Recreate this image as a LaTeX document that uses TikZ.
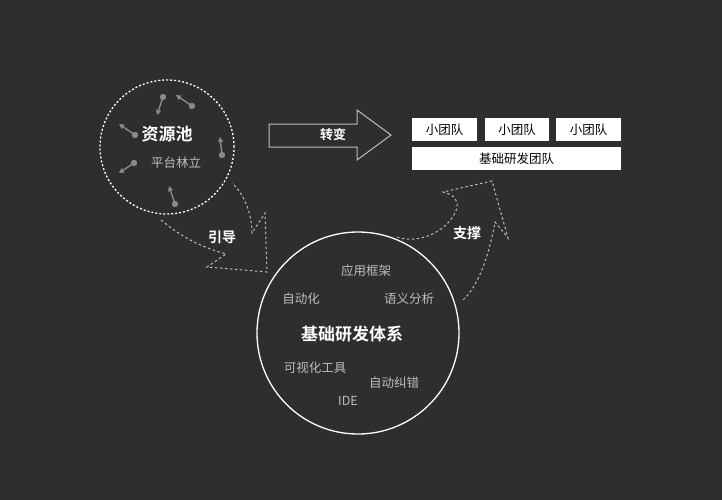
\documentclass[tikz,border=0pt]{standalone}
\usepackage{fontspec}
\setmainfont{Noto Sans CJK SC}
\newfontfamily\cjkb{Noto Sans CJK SC Bold}
\usetikzlibrary{arrows.meta}
\definecolor{bg}{HTML}{2E2E2E}
\definecolor{gr}{HTML}{8A8A8A}
\definecolor{lt}{HTML}{BDBDBD}
\tikzset{
 wt/.style={text=white,font=\cjkb\fontsize{17}{17}\selectfont},
 gt/.style={text=lt,font=\fontsize{12.5}{13}\selectfont},
 lbl/.style={text=white,font=\cjkb\fontsize{14}{14}\selectfont},
 box/.style={fill=white,inner sep=0pt,text=black,font=\fontsize{12.5}{13}\selectfont},
 mini/.style={gr,line width=1.4pt,-{Triangle[length=5pt,width=5pt]}},
 dsh/.style={lt,line width=1pt,dash pattern=on 2.5pt off 2.5pt},
}
\begin{document}
\begin{tikzpicture}[x=1pt,y=-1pt]
\fill[bg] (0,0) rectangle (722,500);
\useasboundingbox (0,0) rectangle (722,500);
% circle 1
\node[circle,draw=white,line width=1.3pt,dash pattern=on 2pt off 2pt,minimum size=134pt,inner sep=0pt] (pool) at (167,147) {};
\node[wt] (t1) at (167,134) {资源池};
\node[gt] (t2) at (176,163) {平台林立};
\foreach \a/\b/\c/\d in {163/97/157/115, 192/106/176/95, 135/135/119/124, 222/155/220/137, 134/163/119/173, 175/204/169/186}{
 \fill[gr] (\a,\b) circle (3.2pt);
 \draw[mini] (\a,\b) -- (\c,\d);
}
% big arrow
\draw[lt,line width=1pt] (269,124) -- (357,124) -- (357,110) -- (391,135) -- (357,160) -- (357,147) -- (269,147) -- cycle;
\node[text=white,font=\cjkb\fontsize{13}{13}\selectfont] (zb) at (333,135) {转变};
% boxes
\node[box,minimum width=65pt,minimum height=23pt] (b1) at (444.5,129.5) {小团队};
\node[box,minimum width=64pt,minimum height=23pt] (b2) at (517,129.5) {小团队};
\node[box,minimum width=65pt,minimum height=23pt] (b3) at (588.5,129.5) {小团队};
\node[box,minimum width=209pt,minimum height=23pt] (b4) at (516.5,158.5) {基础研发团队};
% circle 2
\node[circle,draw=white,line width=1.3pt,minimum size=202pt,inner sep=0pt] (sys) at (358,333) {};
\node[gt] at (366,271) {应用框架};
\node[gt] at (301,299) {自动化};
\node[gt] at (409,299) {语义分析};
\node[wt] at (352,334) {基础研发体系};
\node[gt] at (315,368) {可视化工具};
\node[gt] at (394,383) {自动纠错};
\node[gt] at (348,401) {IDE};
% guide arrow
\draw[dsh] (161,220) .. controls (185,240) and (205,248) .. (226,254) -- (207,267) -- (267,272) -- (265,213) -- (252,233) .. controls (252,215) and (245,195) .. (232,183);
\node[lbl] (yd) at (222,237) {引导};
% support arrow
\draw[dsh] (397,237) .. controls (420,245) and (450,230) .. (457,208) .. controls (458,200) and (455,195) .. (443,192) -- (492,181) -- (508,238) -- (495,222) .. controls (490,250) and (480,285) .. (463,300);
\node[lbl] (zc) at (467,233) {支撑};
\end{tikzpicture}
\end{document}
